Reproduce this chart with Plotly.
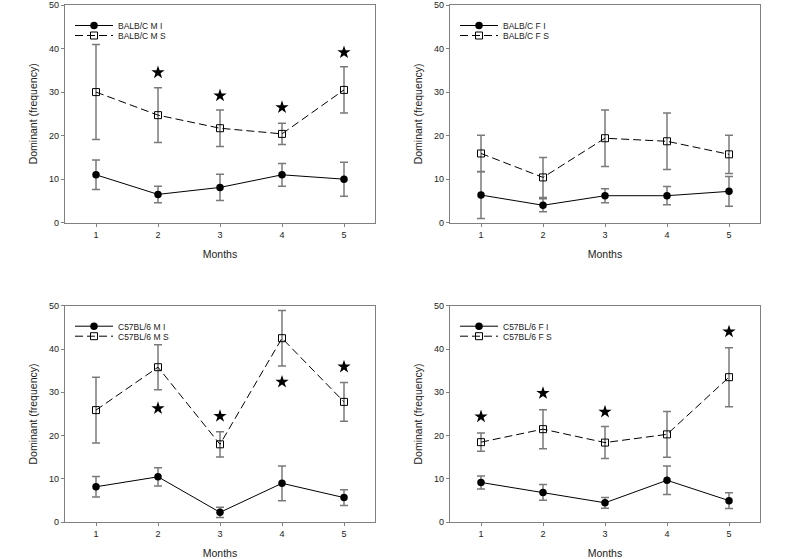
import plotly.graph_objects as go

months = [1, 2, 3, 4, 5]

# Panel 1: BALB/C male
balbc_m_i = [11.0, 6.5, 8.1, 11.0, 10.0]
balbc_m_i_err = [3.4, 1.9, 3.0, 2.6, 3.9]
balbc_m_s = [30.0, 24.7, 21.7, 20.4, 30.5]
balbc_m_s_err = [10.9, 6.3, 4.2, 2.45, 5.3]
balbc_m_star_x = [2, 3, 4, 5]
balbc_m_star_y = [34.5, 29.2, 26.5, 39.1]

# Panel 2: BALB/C female
balbc_f_i = [6.35, 4.0, 6.2, 6.2, 7.2]
balbc_f_i_err = [5.4, 1.5, 1.6, 2.1, 3.4]
balbc_f_s = [15.9, 10.4, 19.4, 18.7, 15.7]
balbc_f_s_err = [4.2, 4.6, 6.5, 6.5, 4.4]
balbc_f_star_x = []
balbc_f_star_y = []

# Panel 3: C57BL/6 male
c57_m_i = [8.2, 10.5, 2.3, 9.0, 5.7]
c57_m_i_err = [2.35, 2.1, 1.2, 4.0, 1.8]
c57_m_s = [25.9, 35.8, 18.0, 42.5, 27.8]
c57_m_s_err = [7.6, 5.2, 2.9, 6.4, 4.45]
c57_m_star_x = [2, 3, 4, 5]
c57_m_star_y = [26.3, 24.5, 32.4, 35.9]

# Panel 4: C57BL/6 female
c57_f_i = [9.2, 6.9, 4.5, 9.7, 5.0]
c57_f_i_err = [1.5, 1.8, 1.25, 3.3, 1.8]
c57_f_s = [18.5, 21.5, 18.4, 20.3, 33.5]
c57_f_s_err = [2.1, 4.5, 3.7, 5.3, 6.8]
c57_f_star_x = [1, 2, 3, 5]
c57_f_star_y = [24.4, 29.8, 25.5, 44.0]

panels = [
    ("BALB/C M I", "BALB/C M S", balbc_m_i, balbc_m_i_err, balbc_m_s, balbc_m_s_err, balbc_m_star_x, balbc_m_star_y),
    ("BALB/C F I", "BALB/C F S", balbc_f_i, balbc_f_i_err, balbc_f_s, balbc_f_s_err, balbc_f_star_x, balbc_f_star_y),
    ("C57BL/6 M I", "C57BL/6 M S", c57_m_i, c57_m_i_err, c57_m_s, c57_m_s_err, c57_m_star_x, c57_m_star_y),
    ("C57BL/6 F I", "C57BL/6 F S", c57_f_i, c57_f_i_err, c57_f_s, c57_f_s_err, c57_f_star_x, c57_f_star_y),
]

W, H = 792, 559
# pixel boxes (left, right, top, bottom)
boxes = [(65, 375, 5, 222.7), (450, 760, 5, 222.7), (65, 375, 305.7, 522.3), (450, 760, 305.7, 522.3)]

FONT = "Liberation Sans, Arial, sans-serif"
AX = "#808080"
ERR = "#7a7a7a"

fig = go.Figure()
layout = dict(
    width=W, height=H, margin=dict(l=0, r=0, t=0, b=0, autoexpand=False),
    paper_bgcolor="white", plot_bgcolor="white",
    font=dict(family=FONT, color="#222", size=10),
    showlegend=True,
)

for k, (n1, n2, yi, ei, ys, es, sx, sy) in enumerate(panels):
    idx = "" if k == 0 else str(k + 1)
    xa, ya = "x" + idx, "y" + idx
    lg1 = "legend" if k == 0 else "legend" + str(2 * k + 1)
    lg2 = "legend" + str(2 * k + 2)
    l, r, t, b = boxes[k]
    fig.add_trace(go.Scatter(
        x=months, y=yi, name=n1, mode="lines+markers", xaxis=xa, yaxis=ya, legend=lg1,
        line=dict(color="black", width=1),
        marker=dict(symbol="circle", size=7.5, color="black"),
        error_y=dict(type="data", array=ei, visible=True, color=ERR, thickness=1.5, width=4),
    ))
    fig.add_trace(go.Scatter(
        x=months, y=ys, name=n2, mode="lines+markers", xaxis=xa, yaxis=ya, legend=lg2,
        line=dict(color="black", width=1, dash="8px,4px"),
        marker=dict(symbol="square-open", size=7, color="black", line=dict(width=1)),
        error_y=dict(type="data", array=es, visible=True, color=ERR, thickness=1.5, width=4),
    ))
    fig.add_trace(go.Scatter(
        x=sx, y=sy, mode="markers", xaxis=xa, yaxis=ya, showlegend=False,
        marker=dict(symbol="star", size=10, color="black", line=dict(width=0)),
        hoverinfo="skip",
    ))
    common = dict(showline=True, mirror=True, linecolor=AX, linewidth=1.3, showgrid=False,
                  zeroline=False, ticks="outside", ticklen=3, tickcolor=AX, tickwidth=1,
                  tickfont=dict(size=9, color="#222"), automargin=False,
                  ticklabeloverflow="allow")
    layout["xaxis" + idx] = dict(
        domain=[l / W, r / W], anchor=ya, range=[0.5, 5.5], tickvals=months,
        title=dict(text="Months", font=dict(size=10.5, color="#222"), standoff=11), **common)
    layout["yaxis" + idx] = dict(
        domain=[1 - b / H, 1 - t / H], anchor=xa, range=[0, 50], dtick=10,
        title=dict(text="Dominant (frequency)", font=dict(size=10.5, color="#222"), standoff=9), **common)
    for j, lg in enumerate((lg1, lg2)):
        layout[lg] = dict(
            x=(l + 5) / W, y=1 - (t + 6 + 10 * j) / H, xanchor="left", yanchor="top",
            bgcolor="rgba(0,0,0,0)", borderwidth=0, font=dict(size=8.5, color="#222"),
            tracegroupgap=0, itemwidth=38,
        )

fig.update_layout(**layout)
fig.write_html("out.html", config={"displayModeBar": False},
               post_script="document.body.style.margin='0';")
